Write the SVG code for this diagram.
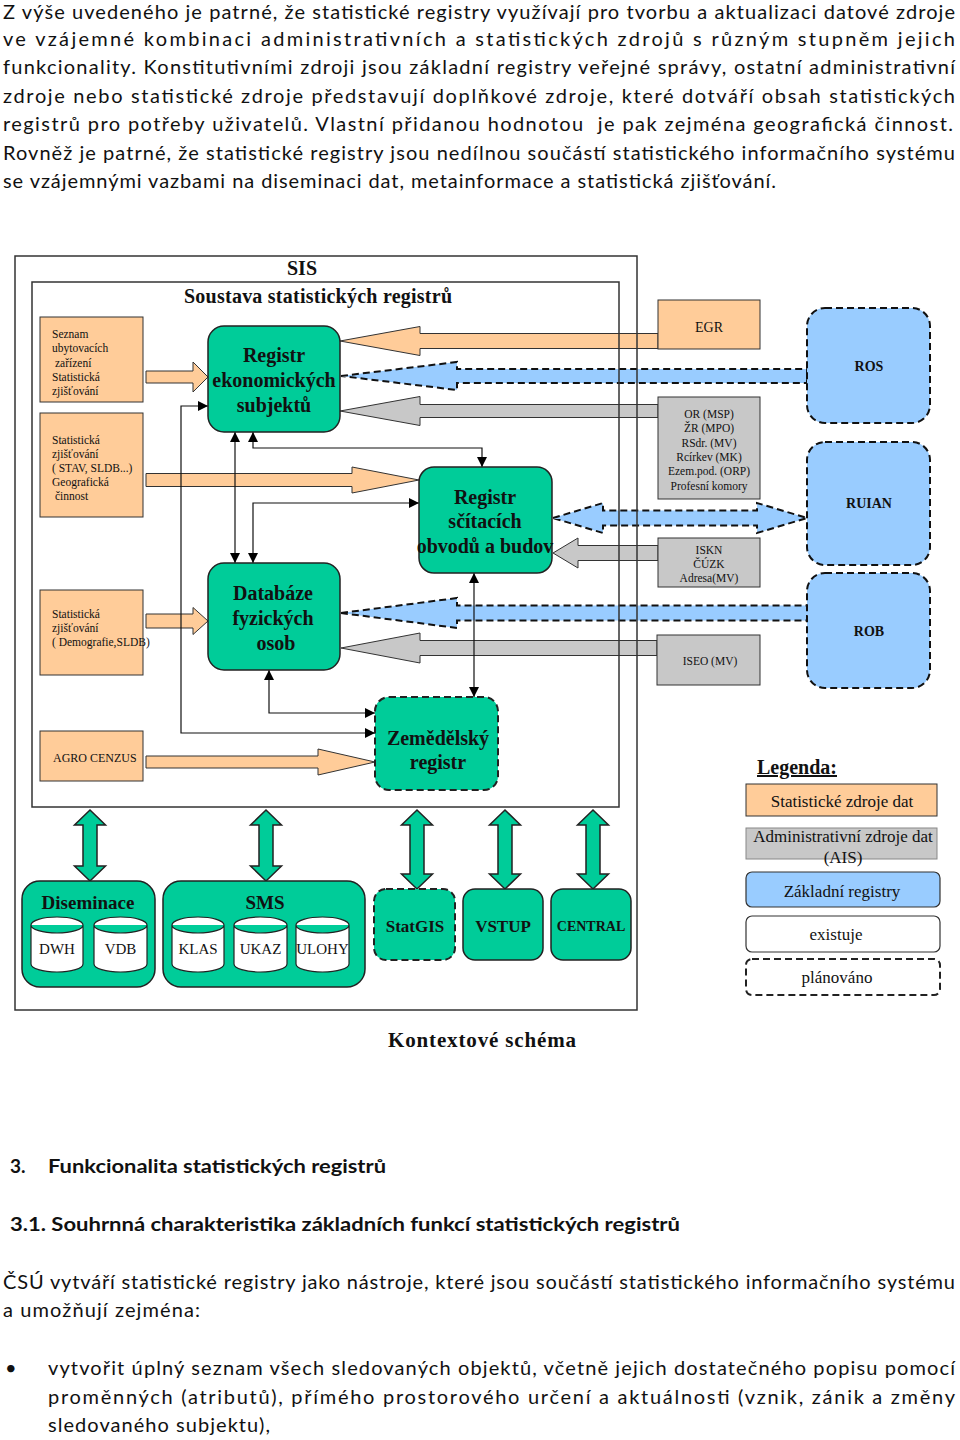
<svg xmlns="http://www.w3.org/2000/svg" width="960" height="1440" viewBox="0 0 960 1440">
<style>
.body{font-family:Lato,"Liberation Sans",sans-serif;font-size:20px;fill:#111}
.bodyb{font-family:Lato,"Liberation Sans",sans-serif;font-size:19px;font-weight:bold;fill:#111}
.tm{font-family:"Liberation Serif","Times New Roman",serif;fill:#111}
.sm{font-size:11.5px}
.nb{font-size:20px;font-weight:bold;text-anchor:middle}
.ctr{text-anchor:middle}
.org{fill:#FFCC99;stroke:#333;stroke-width:1}
.gry{fill:#C8C8C8;stroke:#333;stroke-width:1}
.blu{fill:#99CCFF;stroke:#111;stroke-width:2;stroke-dasharray:7,4}
.grn{fill:#00CC99;stroke:#222;stroke-width:1.5}
.grnd{fill:#00CC99;stroke:#222;stroke-width:2;stroke-dasharray:7,4}
.ln{fill:none;stroke:#111;stroke-width:1.2;marker-start:url(#ah);marker-end:url(#ah)}
.frame{fill:none;stroke:#333;stroke-width:1.5}
.cyl{fill:#fff;stroke:#222;stroke-width:1.2}
</style>
<defs>
<marker id="ah" viewBox="0 0 10 10" refX="10" refY="5" markerWidth="10" markerHeight="10" markerUnits="userSpaceOnUse" orient="auto-start-reverse"><path d="M0,0 L10,5 L0,10 z" fill="#000"/></marker>
</defs>
<rect width="960" height="1440" fill="#fff"/>

<g id="intro-text">
<text class="body" x="3" y="19" textLength="952" lengthAdjust="spacing">Z výše uvedeného je patrné, že statistické registry využívají pro tvorbu a aktualizaci datové zdroje</text>
<text class="body" x="3" y="46" textLength="952" lengthAdjust="spacing">ve vzájemné kombinaci administrativních a statistických zdrojů s různým stupněm jejich</text>
<text class="body" x="3" y="74" textLength="952" lengthAdjust="spacing">funkcionality. Konstitutivními zdroji jsou základní registry veřejné správy, ostatní administrativní</text>
<text class="body" x="3" y="103" textLength="952" lengthAdjust="spacing">zdroje nebo statistické zdroje představují doplňkové zdroje, které dotváří obsah statistických</text>
<text class="body" x="3" y="131" textLength="950" lengthAdjust="spacing">registrů pro potřeby uživatelů. Vlastní přidanou hodnotou&#160; je pak zejména geografická činnost.</text>
<text class="body" x="3" y="160" textLength="952" lengthAdjust="spacing">Rovněž je patrné, že statistické registry jsou nedílnou součástí statistického informačního systému</text>
<text class="body" x="3" y="188" textLength="773" lengthAdjust="spacing">se vzájemnými vazbami na diseminaci dat, metainformace a statistická zjišťování.</text>
</g>

<g id="connectors">
<polygon class="org" points="340,341 420,326.5 420,333.5 658,333.5 658,348.5 420,348.5 420,355.5"/>
<polygon class="blu" points="341,376 457,362 457,369 807,369 807,383 457,383 457,390"/>
<polygon class="gry" points="340,411 420,396.5 420,404.5 658,404.5 658,417.5 420,417.5 420,425.5"/>
<polygon class="blu" points="553,518 603,503 603,510.5 757,510.5 757,503 807,518 757,533 757,525.5 603,525.5 603,533"/>
<polygon class="gry" points="553,553 578,538 578,545.5 658,545.5 658,560.5 578,560.5 578,568"/>
<polygon class="blu" points="341,613 457,598 457,605.5 807,605.5 807,620.5 457,620.5 457,628"/>
<polygon class="gry" points="341,648 420,633 420,640.5 657,640.5 657,655.5 420,655.5 420,663"/>
<polygon class="org" points="146,371 193,371 193,362 208,377 193,392 193,383 146,383"/>
<polygon class="org" points="146,473.5 352,473.5 352,467 419,480 352,493 352,486.5 146,486.5"/>
<polygon class="org" points="146,614 193,614 193,607.5 208,621 193,634.5 193,628 146,628"/>
<polygon class="org" points="146,756 318,756 318,749 375,762 318,775 318,768 146,768"/>
<path class="ln" d="M208,406 H181 V733 H375"/>
<path class="ln" d="M235,432 V563"/>
<path class="ln" d="M253,432 V448 H482 V467"/>
<path class="ln" d="M253,563 V503 H419"/>
<path class="ln" d="M269,670 V713 H375"/>
<path class="ln" d="M474,573 V697"/>
<polygon class="grn" points="90,810 105.5,825 97,825 97,866 105.5,866 90,881 74.5,866 83,866 83,825 74.5,825"/>
<polygon class="grn" points="266,810 281.5,825 273,825 273,866 281.5,866 266,881 250.5,866 259,866 259,825 250.5,825"/>
<polygon class="grn" points="417,810 432.5,825 424,825 424,874 432.5,874 417,889 401.5,874 410,874 410,825 401.5,825"/>
<polygon class="grn" points="505,810 520.5,825 512,825 512,874 520.5,874 505,889 489.5,874 498,874 498,825 489.5,825"/>
<polygon class="grn" points="593,810 608.5,825 600,825 600,874 608.5,874 593,889 577.5,874 586,874 586,825 577.5,825"/>
</g>

<g id="sis">
<rect class="frame" x="15" y="256" width="622" height="754"/>
<text class="tm nb" x="302" y="275">SIS</text>
</g>
<g id="soustava">
<rect class="frame" x="32" y="282" width="587" height="525"/>
<text class="tm" x="184" y="303" font-size="20" font-weight="bold" textLength="268" lengthAdjust="spacing">Soustava statistických registrů</text>
</g>

<g id="src-seznam">
<rect class="org" x="40" y="317" width="103" height="85"/>
<text class="tm sm" x="52" y="338">Seznam</text>
<text class="tm sm" x="52" y="352">ubytovacích</text>
<text class="tm sm" x="55" y="367">zařízení</text>
<text class="tm sm" x="52" y="381">Statistická</text>
<text class="tm sm" x="52" y="395">zjišťování</text>
</g>
<g id="src-stav">
<rect class="org" x="40" y="413" width="103" height="104"/>
<text class="tm sm" x="52" y="444">Statistická</text>
<text class="tm sm" x="52" y="458">zjišťování</text>
<text class="tm sm" x="52" y="472">( STAV, SLDB...)</text>
<text class="tm sm" x="52" y="486">Geografická</text>
<text class="tm sm" x="55" y="500">činnost</text>
</g>
<g id="src-demografie">
<rect class="org" x="40" y="590" width="103" height="85"/>
<text class="tm sm" x="52" y="618">Statistická</text>
<text class="tm sm" x="52" y="632">zjišťování</text>
<text class="tm sm" x="52" y="646">( Demografie,SLDB)</text>
</g>
<g id="src-agro">
<rect class="org" x="40" y="731" width="103" height="50"/>
<text class="tm" x="53" y="762" font-size="12">AGRO CENZUS</text>
</g>

<g id="res">
<rect class="grn" x="208" y="326" width="132" height="106" rx="16"/>
<text class="tm nb" x="274" y="362">Registr</text>
<text class="tm nb" x="274" y="387">ekonomických</text>
<text class="tm nb" x="274" y="412">subjektů</text>
</g>
<g id="rsob">
<rect class="grn" x="419" y="467" width="133" height="106" rx="15"/>
<text class="tm nb" x="485" y="504">Registr</text>
<text class="tm nb" x="485" y="528">sčítacích</text>
<text class="tm nb" x="485" y="553">obvodů a budov</text>
</g>
<g id="dfo">
<rect class="grn" x="208" y="563" width="132" height="107" rx="16"/>
<text class="tm nb" x="273" y="600">Databáze</text>
<text class="tm nb" x="273" y="625">fyzických</text>
<text class="tm nb" x="276" y="650">osob</text>
</g>
<g id="zr">
<rect class="grnd" x="375" y="697" width="123" height="93" rx="14"/>
<text class="tm nb" x="438" y="745">Zemědělský</text>
<text class="tm nb" x="438" y="769">registr</text>
</g>

<g id="egr">
<rect class="org" x="658" y="300" width="102" height="49"/>
<text class="tm ctr" x="709" y="332" font-size="14">EGR</text>
</g>
<g id="or-box">
<rect class="gry" x="658" y="397" width="102" height="102"/>
<text class="tm sm ctr" x="709" y="418">OR (MSP)</text>
<text class="tm sm ctr" x="709" y="432">ŽR (MPO)</text>
<text class="tm sm ctr" x="709" y="447">RSdr. (MV)</text>
<text class="tm sm ctr" x="709" y="461">Rcírkev (MK)</text>
<text class="tm sm ctr" x="709" y="475">Ezem.pod. (ORP)</text>
<text class="tm sm ctr" x="709" y="490">Profesní komory</text>
</g>
<g id="iskn">
<rect class="gry" x="658" y="538" width="102" height="49"/>
<text class="tm sm ctr" x="709" y="554">ISKN</text>
<text class="tm sm ctr" x="709" y="568">ČÚZK</text>
<text class="tm sm ctr" x="709" y="582">Adresa(MV)</text>
</g>
<g id="iseo">
<rect class="gry" x="657" y="635" width="103" height="50"/>
<text class="tm sm ctr" x="710" y="665">ISEO (MV)</text>
</g>

<g id="ros">
<rect class="blu" x="807" y="308" width="123" height="115" rx="18"/>
<text class="tm ctr" x="869" y="371" font-size="14" font-weight="bold">ROS</text>
</g>
<g id="ruian">
<rect class="blu" x="807" y="442" width="123" height="123" rx="18"/>
<text class="tm ctr" x="869" y="508" font-size="14" font-weight="bold">RUIAN</text>
</g>
<g id="rob">
<rect class="blu" x="807" y="573" width="123" height="115" rx="18"/>
<text class="tm ctr" x="869" y="636" font-size="14" font-weight="bold">ROB</text>
</g>

<g id="diseminace">
<rect class="grn" x="22" y="881" width="133" height="106" rx="18"/>
<text class="tm ctr" x="88" y="909" font-size="19" font-weight="bold">Diseminace</text>
<path class="cyl" d="M31,925 A26,8 0 0 1 83,925 V964 A26,8 0 0 1 31,964 Z M31,925 A26,8 0 0 0 83,925"/>
<text class="tm ctr" x="57" y="954" font-size="15">DWH</text>
<path class="cyl" d="M94,925 A26.5,8 0 0 1 147,925 V964 A26.5,8 0 0 1 94,964 Z M94,925 A26.5,8 0 0 0 147,925"/>
<text class="tm ctr" x="120.5" y="954" font-size="15">VDB</text>
</g>
<g id="sms">
<rect class="grn" x="163" y="881" width="202" height="106" rx="18"/>
<text class="tm ctr" x="265" y="909" font-size="19" font-weight="bold">SMS</text>
<path class="cyl" d="M172,925 A26,8 0 0 1 224,925 V964 A26,8 0 0 1 172,964 Z M172,925 A26,8 0 0 0 224,925"/>
<text class="tm ctr" x="198" y="954" font-size="15">KLAS</text>
<path class="cyl" d="M234,925 A26.5,8 0 0 1 287,925 V964 A26.5,8 0 0 1 234,964 Z M234,925 A26.5,8 0 0 0 287,925"/>
<text class="tm ctr" x="260.5" y="954" font-size="15">UKAZ</text>
<path class="cyl" d="M296,925 A26.5,8 0 0 1 349,925 V964 A26.5,8 0 0 1 296,964 Z M296,925 A26.5,8 0 0 0 349,925"/>
<text class="tm ctr" x="322.5" y="954" font-size="15">ULOHY</text>
</g>
<g id="statgis">
<rect class="grnd" x="374" y="889" width="81" height="71" rx="12"/>
<text class="tm ctr" x="415" y="932" font-size="17" font-weight="bold">StatGIS</text>
</g>
<g id="vstup">
<rect class="grn" x="463" y="889" width="80" height="71" rx="12"/>
<text class="tm ctr" x="503" y="932" font-size="17" font-weight="bold">VSTUP</text>
</g>
<g id="central">
<rect class="grn" x="551" y="889" width="80" height="71" rx="12"/>
<text class="tm ctr" x="591" y="931" font-size="14" font-weight="bold">CENTRAL</text>
</g>

<g id="legend">
<text class="tm" x="757" y="774" font-size="20" font-weight="bold" text-decoration="underline">Legenda:</text>
<rect class="org" x="746" y="784" width="191" height="32"/>
<text class="tm ctr" x="842" y="807" font-size="17">Statistické zdroje dat</text>
<rect x="746" y="828" width="191" height="31" fill="#C8C8C8" stroke="#888" stroke-width="1"/>
<text class="tm ctr" x="843" y="842" font-size="17">Administrativní zdroje dat</text>
<text class="tm ctr" x="843" y="863" font-size="17">(AIS)</text>
<rect x="746" y="872" width="194" height="35" rx="6" fill="#99CCFF" stroke="#333" stroke-width="1.2"/>
<text class="tm ctr" x="842" y="897" font-size="17">Základní registry</text>
<rect x="746" y="916" width="194" height="36" rx="6" fill="#fff" stroke="#333" stroke-width="1.2"/>
<text class="tm ctr" x="836" y="940" font-size="17">existuje</text>
<rect x="746" y="959" width="194" height="36" rx="6" fill="#fff" stroke="#222" stroke-width="2" stroke-dasharray="7,4"/>
<text class="tm ctr" x="837" y="983" font-size="17">plánováno</text>
</g>

<g id="caption">
<text class="tm ctr" x="482" y="1047" font-size="21" font-weight="bold" textLength="188" lengthAdjust="spacing">Kontextové schéma</text>
</g>

<g id="section-text">
<text class="bodyb" x="10" y="1173">3.</text>
<text class="bodyb" x="48" y="1173" textLength="338" lengthAdjust="spacingAndGlyphs">Funkcionalita statistických registrů</text>
<text class="bodyb" x="10" y="1231" textLength="670" lengthAdjust="spacingAndGlyphs">3.1. Souhrnná charakteristika základních funkcí statistických registrů</text>
<text class="body" x="3" y="1289" textLength="952" lengthAdjust="spacing">ČSÚ vytváří statistické registry jako nástroje, které jsou součástí statistického informačního systému</text>
<text class="body" x="3" y="1317" textLength="197" lengthAdjust="spacing">a umožňují zejména:</text>
<text class="body" x="5" y="1375">•</text>
<text class="body" x="48" y="1375" textLength="907" lengthAdjust="spacing">vytvořit úplný seznam všech sledovaných objektů, včetně jejich dostatečného popisu pomocí</text>
<text class="body" x="48" y="1404" textLength="907" lengthAdjust="spacing">proměnných (atributů), přímého prostorového určení a aktuálnosti (vznik, zánik a změny</text>
<text class="body" x="48" y="1432" textLength="222" lengthAdjust="spacing">sledovaného subjektu),</text>
</g>
</svg>
